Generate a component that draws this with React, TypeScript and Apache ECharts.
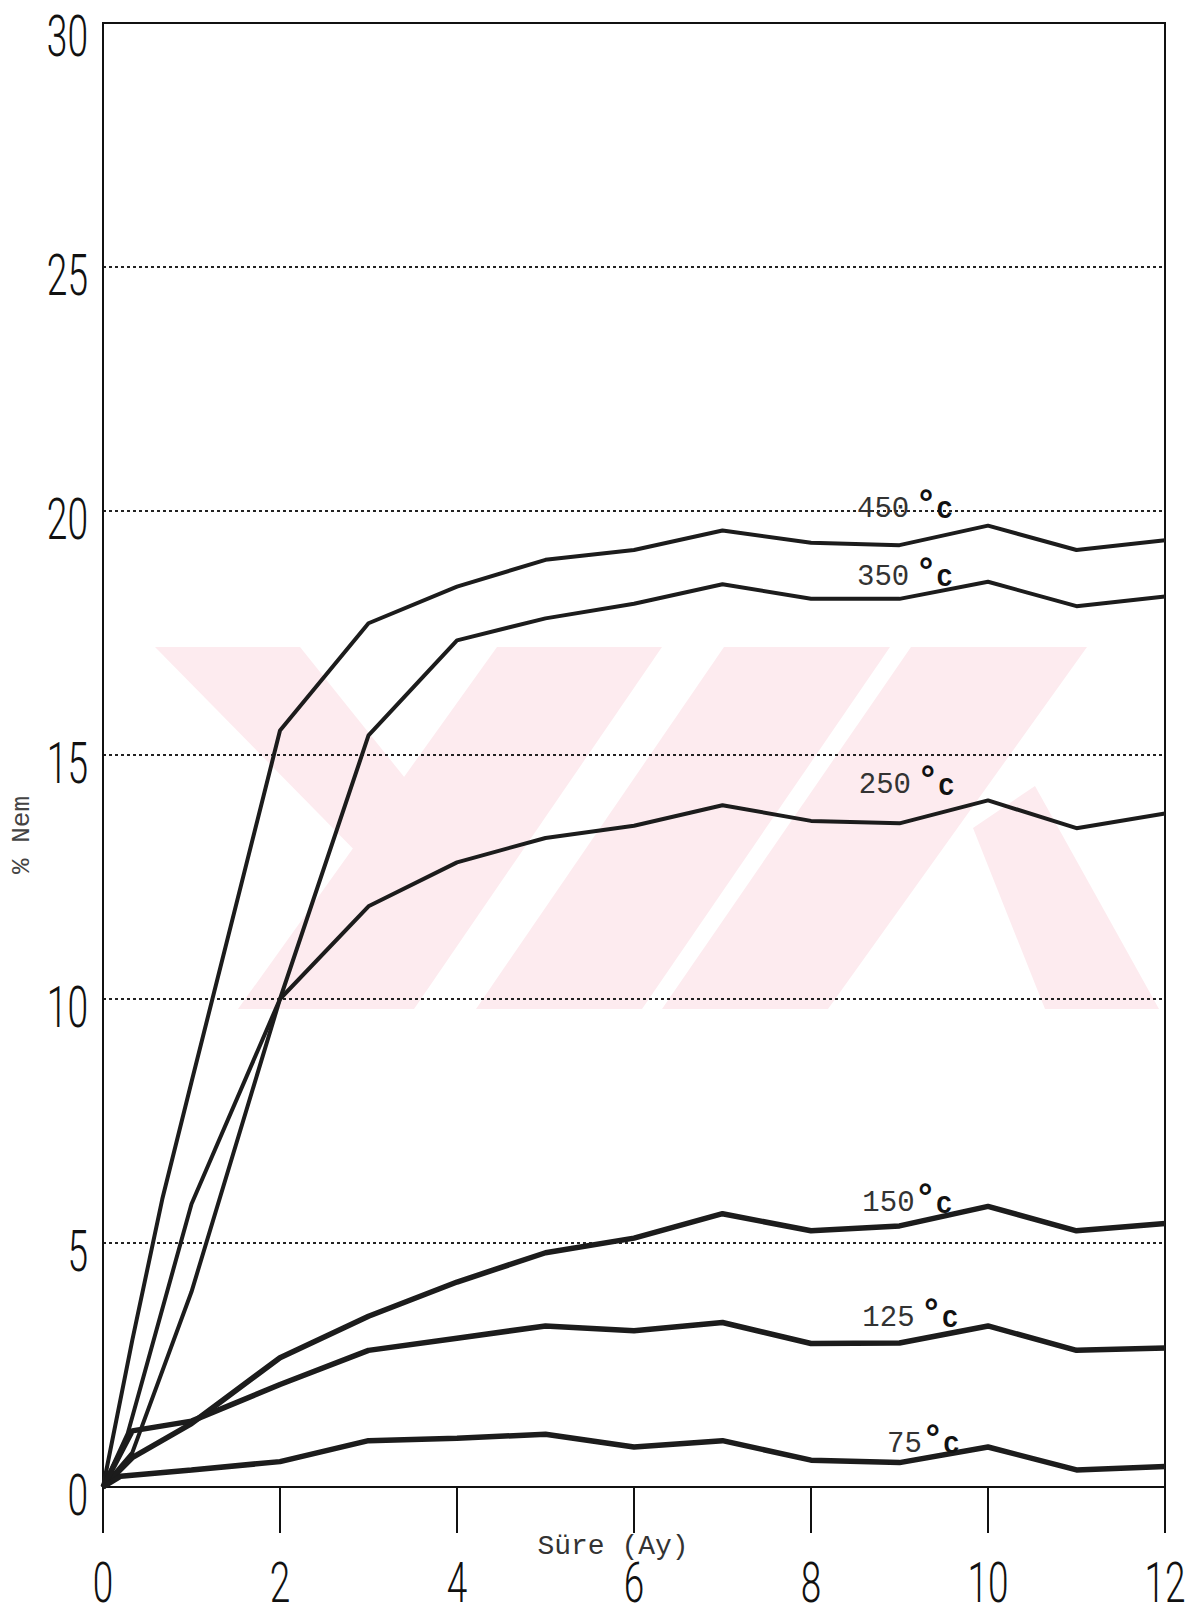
import React, { useEffect, useRef } from 'react';
import * as echarts from 'echarts';

// ---- axis ticks ----
const xTicks = [0, 2, 4, 6, 8, 10, 12];
const xTickLabels = ['0', '2', '4', '6', '8', '10', '12'];
const yTicks = [0, 5, 10, 15, 20, 25, 30];
const yTickLabels = ['0', '5', '10', '15', '20', '25', '30'];

// ---- series (Süre in months, % Nem) ----
const months450 = [0, 0.33, 0.67, 1, 2, 3, 4, 5, 6, 7, 8, 9, 10, 11, 12];
const nem450 = [0, 3.0, 5.9, 8.3, 15.5, 17.7, 18.45, 19.0, 19.2, 19.6, 19.35, 19.3, 19.7, 19.2, 19.4];

const months350 = [0, 0.33, 1, 2, 3, 4, 5, 6, 7, 8, 9, 10, 11, 12];
const nem350 = [0, 0.7, 4.0, 10.0, 15.4, 17.35, 17.8, 18.1, 18.5, 18.2, 18.2, 18.55, 18.05, 18.25];

const months250 = [0, 0.28, 1, 2, 3, 4, 5, 6, 7, 8, 9, 10, 11, 12];
const nem250 = [0, 1.1, 5.8, 10.0, 11.9, 12.8, 13.3, 13.55, 13.97, 13.65, 13.6, 14.07, 13.5, 13.8];

const months150 = [0, 0.33, 1, 2, 3, 4, 5, 6, 7, 8, 9, 10, 11, 12];
const nem150 = [0, 0.6, 1.3, 2.65, 3.5, 4.2, 4.8, 5.1, 5.6, 5.25, 5.35, 5.75, 5.25, 5.4];

const months125 = [0, 0.33, 1, 2, 3, 4, 5, 6, 7, 8, 9, 10, 11, 12];
const nem125 = [0, 1.15, 1.35, 2.1, 2.8, 3.05, 3.3, 3.2, 3.37, 2.94, 2.95, 3.3, 2.8, 2.85];

const months75 = [0, 0.2, 1, 2, 3, 4, 5, 6, 7, 8, 9, 10, 11, 12];
const nem75 = [0, 0.22, 0.35, 0.52, 0.95, 1.0, 1.08, 0.82, 0.95, 0.55, 0.5, 0.82, 0.35, 0.42];

// ---- curve labels ----
const labelNames = ['450', '350', '250', '150', '125', '75'];
const labelSpaced = [true, true, true, false, true, false];
const labelMonths = [8.52, 8.52, 8.54, 8.58, 8.58, 8.86];
const labelValues = [20.04, 18.64, 14.37, 5.8, 3.46, 0.88];

const seriesMonths = [months450, months350, months250, months150, months125, months75];
const seriesValues = [nem450, nem350, nem250, nem150, nem125, nem75];

const LINE = '#1c1c1c';
const MONO = 'Liberation Mono, DejaVu Sans Mono, monospace';

function buildSeries() {
  return seriesValues.map((vals, si) => ({
    type: 'line',
    name: labelNames[si] + ' °C',
    data: vals.map((v, i) => [seriesMonths[si][i], v]),
    symbol: 'none',
    smooth: false,
    lineStyle: { color: LINE, width: si < 3 ? 4 : 5.5 },
    itemStyle: { color: LINE },
    z: 3,
    markPoint: {
      silent: true,
      symbol: 'circle',
      symbolSize: 0,
      itemStyle: { color: 'rgba(0,0,0,0)' },
      label: {
        show: true,
        position: 'right',
        distance: 0,
        formatter: () => `{n|${labelNames[si]}}{d|°}{c|C}`,
        rich: {
          n: { fontFamily: MONO, fontSize: 29, color: '#333', lineHeight: 44, verticalAlign: 'middle' },
          d: {
            fontFamily: MONO, fontSize: 36, fontWeight: 'bold', color: '#111', lineHeight: 44,
            verticalAlign: 'top', padding: [0, 0, 0, labelSpaced[si] ? 6 : 0],
          },
          c: { fontFamily: MONO, fontSize: 26, fontWeight: 'bold', color: '#111', lineHeight: 44, verticalAlign: 'middle', padding: [4, 0, 0, 0] },
        },
      },
      data: [{ coord: [labelMonths[si], labelValues[si]] }],
    },
  }));
}

// watermark bands (decorative, page pixels)
const WM = '#fdebef';
const watermarkPolys = [
  [[155, 647], [300, 647], [445, 828], [373, 869]],
  [[497, 647], [662, 647], [414, 1009], [238, 1009]],
  [[724, 647], [890, 647], [642, 1009], [476, 1009]],
  [[911, 647], [1087, 647], [828, 1009], [662, 1009]],
  [[973, 828], [1035, 786], [1159, 1009], [1045, 1009]],
];

export default function App() {
  const ref = useRef<HTMLDivElement>(null);
  useEffect(() => {
    if (!ref.current) return;
    const chart = echarts.init(ref.current, null, { renderer: 'svg' });
    chart.setOption({
      animation: false,
      backgroundColor: '#ffffff',
      grid: {
        left: 103,
        right: 23,
        top: 23,
        bottom: 135,
        show: true,
        borderColor: '#111',
        borderWidth: 2,
        backgroundColor: 'transparent',
      },
      xAxis: {
        type: 'value',
        min: 0,
        max: 12,
        interval: 2,
        axisLine: { show: true, lineStyle: { color: '#111', width: 2 } },
        axisTick: { show: true, inside: false, length: 46, lineStyle: { color: '#111', width: 2 } },
        axisLabel: { show: false },
        splitLine: { show: false },
      },
      yAxis: {
        type: 'value',
        min: 0,
        max: 30,
        interval: 5,
        axisLine: { show: true, lineStyle: { color: '#111', width: 2 } },
        axisTick: { show: false },
        axisLabel: { show: false },
        splitLine: {
          show: true,
          showMinLine: false,
          showMaxLine: false,
          lineStyle: { color: '#222', width: 2, type: [3, 3] },
        },
      },
      series: buildSeries(),
    });

    const tickFont = {
      fontFamily: 'Roboto, "Noto Sans", sans-serif',
      fontWeight: 300,
      fill: '#111',
    };
    const graphics: any[] = [];
    watermarkPolys.forEach((pts, i) => {
      graphics.push({ type: 'polygon', id: 'wm' + i, z: -10, silent: true, shape: { points: pts }, style: { fill: WM } });
    });
    xTicks.forEach((v, i) => {
      const p = chart.convertToPixel({ gridIndex: 0 }, [v, 0]) as number[];
      graphics.push({
        type: 'text', id: 'xl' + i, x: p[0], y: p[1] + 124, scaleX: 0.66, z: 10,
        style: { ...tickFont, fontSize: 56, text: xTickLabels[i], align: 'center', verticalAlign: 'bottom' },
      });
    });
    yTicks.forEach((v, i) => {
      const p = chart.convertToPixel({ gridIndex: 0 }, [0, v]) as number[];
      graphics.push({
        type: 'text', id: 'yl' + i, x: p[0] - 15, y: Math.max(p[1] + 8, 36), scaleX: 0.64, z: 10,
        style: { ...tickFont, fontSize: 58, text: yTickLabels[i], align: 'right', verticalAlign: 'middle' },
      });
    });
    graphics.push({
      type: 'text', id: 'yname', x: 22, y: 835, rotation: Math.PI / 2, z: 10,
      style: { text: '% Nem', fontFamily: MONO, fontSize: 26, fill: '#444', align: 'center', verticalAlign: 'middle' },
    });
    graphics.push({
      type: 'text', id: 'xname', x: 613, y: 1546, z: 10,
      style: { text: 'Süre (Ay)', fontFamily: MONO, fontSize: 28, fill: '#333', align: 'center', verticalAlign: 'middle' },
    });
    chart.setOption({ graphic: { elements: graphics } });

    return () => chart.dispose();
  }, []);
  return <div ref={ref} style={{ position: 'absolute', left: 0, top: 0, width: 1188, height: 1622 }} />;
}
